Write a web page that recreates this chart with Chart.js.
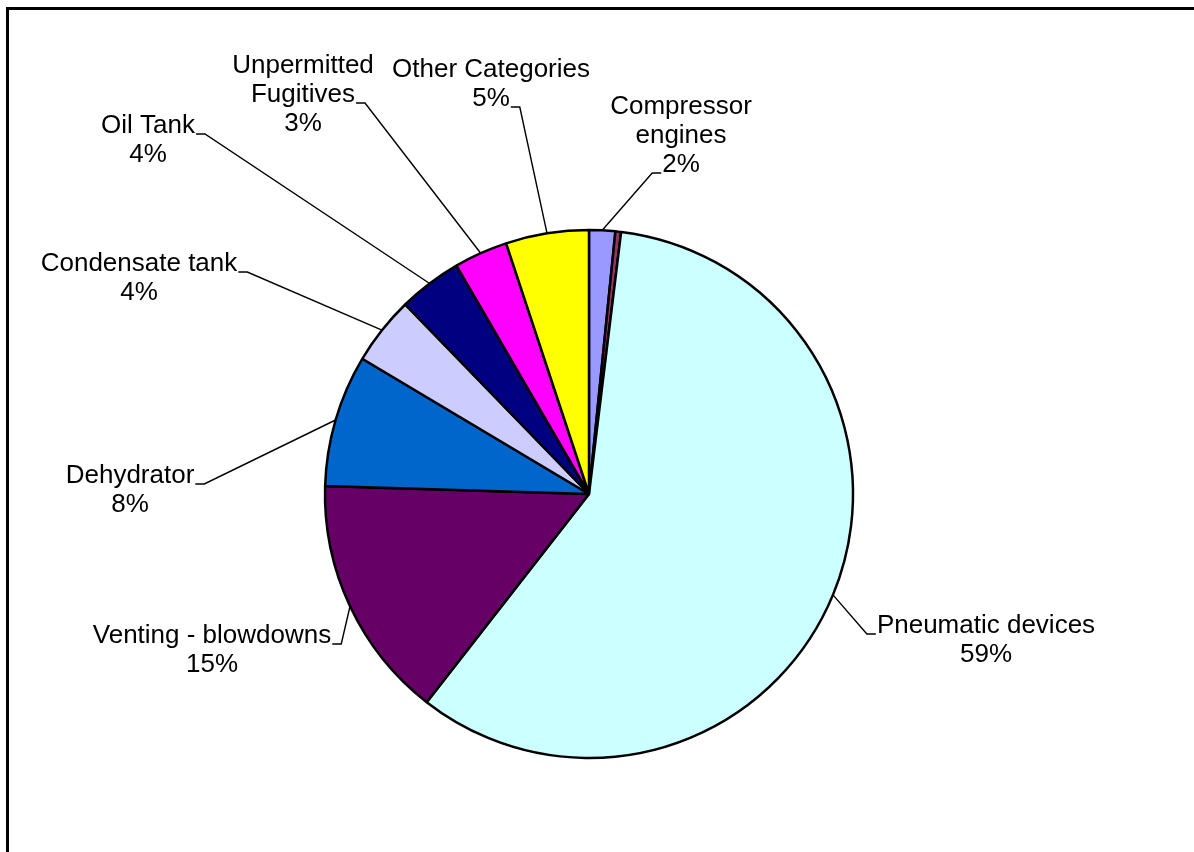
<!DOCTYPE html>
<html>
<head>
<meta charset="utf-8">
<script src="https://cdn.jsdelivr.net/npm/chart.js@4.4.0/dist/chart.umd.min.js"></script>
<style>
  html, body { margin: 0; padding: 0; background: #fff; }
  canvas { display: block; }
</style>
</head>
<body>
<canvas id="emisiones" width="1194" height="852"></canvas>
<script>
const categories = [
  "Compressor\nengines",
  "Miscellaneous",
  "Pneumatic devices",
  "Venting - blowdowns",
  "Dehydrator",
  "Condensate tank",
  "Oil Tank",
  "Unpermitted\nFugitives",
  "Other Categories"
];
const values = [1.6, 0.35, 58.8, 15.0, 8.1, 4.2, 3.9, 3.3, 5.1];
const colors = ["#9999FF", "#993366", "#CCFFFF", "#660066", "#0066CC", "#CCCCFF", "#000080", "#FF00FF", "#FFFF00"];

// label blocks: x = centre of text, y = baseline of first line,
// line/side = where the leader line hooks onto the text
const labelPos = [
  { x: 681, y: 114, line: 2, side: "left" },
  null,
  { x: 986, y: 633, line: 0, side: "left" },
  { x: 212, y: 643, line: 0, side: "right" },
  { x: 130, y: 483, line: 0, side: "right" },
  { x: 139, y: 271, line: 0, side: "right" },
  { x: 148, y: 133, line: 0, side: "right" },
  { x: 303, y: 73, line: 1, side: "right" },
  { x: 491, y: 77, line: 1, side: "right" }
];
const lineH = 29;

const etiquetas = {
  id: "etiquetas",
  beforeDraw(chart) {
    const ctx = chart.ctx;
    ctx.save();
    ctx.fillStyle = "#fff";
    ctx.fillRect(0, 0, chart.width, chart.height);
    ctx.fillStyle = "#000";
    ctx.fillRect(6, 7, chart.width - 6, 3);
    ctx.fillRect(6, 7, 3, chart.height - 7);
    ctx.restore();
  },
  afterDatasetsDraw(chart) {
    const ctx = chart.ctx;
    const meta = chart.getDatasetMeta(0);
    const total = values.reduce((a, b) => a + b, 0);
    ctx.save();
    ctx.font = "26px 'Liberation Sans', Arial, sans-serif";
    ctx.fillStyle = "#000";
    ctx.strokeStyle = "#000";
    ctx.lineWidth = 1.4;
    ctx.textAlign = "center";
    ctx.textBaseline = "alphabetic";
    meta.data.forEach((arc, i) => {
      const pos = labelPos[i];
      if (!pos) return;
      const lines = categories[i].split("\n");
      lines.push(Math.round(values[i] / total * 100) + "%");
      lines.forEach((t, k) => ctx.fillText(t, pos.x, pos.y + k * lineH));

      const w = ctx.measureText(lines[pos.line]).width;
      const yHook = pos.y + pos.line * lineH + 1;
      const xEdge = pos.side === "left" ? pos.x - w / 2 - 1 : pos.x + w / 2 + 1;
      const xKnee = pos.side === "left" ? xEdge - 9 : xEdge + 9;
      const p = arc.getProps(["x", "y", "startAngle", "endAngle", "outerRadius"], true);
      const mid = (p.startAngle + p.endAngle) / 2;
      const ax = p.x + Math.cos(mid) * p.outerRadius;
      const ay = p.y + Math.sin(mid) * p.outerRadius;
      ctx.beginPath();
      ctx.moveTo(xEdge, yHook);
      ctx.lineTo(xKnee, yHook);
      ctx.lineTo(ax, ay);
      ctx.stroke();
    });
    ctx.restore();
  }
};

new Chart(document.getElementById("emisiones"), {
  type: "pie",
  data: {
    labels: categories,
    datasets: [{
      data: values,
      backgroundColor: colors,
      borderColor: "#000",
      borderWidth: 2.5
    }]
  },
  options: {
    responsive: false,
    animation: false,
    radius: 264,
    layout: { padding: { left: 0, right: 16, top: 136, bottom: 0 } },
    plugins: {
      legend: { display: false },
      tooltip: { enabled: false }
    }
  },
  plugins: [etiquetas]
});
</script>
</body>
</html>
